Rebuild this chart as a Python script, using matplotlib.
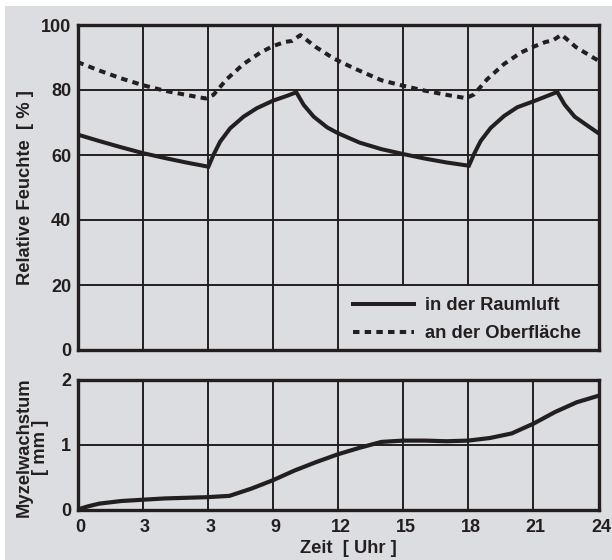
import matplotlib
matplotlib.use("Agg")
import matplotlib.pyplot as plt
import matplotlib.transforms as mtransforms
from matplotlib.patches import Rectangle

plt.rcParams['font.family'] = ['Liberation Sans', 'DejaVu Sans']
plt.rcParams['font.weight'] = 'bold'
plt.rcParams['axes.labelweight'] = 'bold'

BG = '#dcdde0'
INK = '#231f20'

# Relative humidity in room air [%]
raum_x = [0, 1, 2, 3, 4, 5, 6.03, 6.26, 6.57, 7.03, 7.65, 8.26, 9, 9.65, 10.08,
          10.42, 10.88, 11.5, 12, 13, 14, 15, 16, 17, 18.03,
          18.26, 18.57, 19.03, 19.65, 20.26, 21, 21.65, 22.1,
          22.44, 22.9, 23.5, 24]
raum_y = [66.3, 64.3, 62.4, 60.6, 59.1, 57.7, 56.4, 60.0, 64.1, 68.2, 71.8, 74.4, 76.7, 78.2, 79.3,
          75.4, 71.8, 68.5, 66.7, 63.8, 61.8, 60.3, 58.9, 57.7, 56.7,
          60.2, 64.3, 68.3, 72.0, 74.7, 76.5, 78.2, 79.4,
          75.5, 71.8, 69.0, 66.7]

# Relative humidity at surface [%]
ober_x = [0, 1, 2, 3, 4, 5, 5.9, 6.26, 6.87, 7.65, 8.42, 9, 9.57, 9.88, 10.27,
          10.96, 11.8, 12.73, 14, 15, 16, 17, 17.9,
          18.26, 18.87, 19.65, 20.42, 21, 21.57, 21.88, 22.3,
          22.96, 23.5, 24]
ober_y = [88.6, 86.0, 83.6, 81.5, 79.8, 78.5, 77.4, 78.5, 83.3, 88.0, 91.5, 93.5, 94.8, 95.1, 96.9,
          93.3, 89.7, 86.7, 83.0, 81.3, 79.8, 78.5, 77.5,
          78.6, 83.3, 88.0, 91.5, 93.3, 94.8, 95.2, 97.0,
          93.2, 91.0, 89.0]

# Mycelium growth [mm]
myz_x = [0, 0.5, 1, 2, 3, 4, 5, 6, 7, 8, 9, 10, 11, 12, 13, 14, 15, 16, 17, 18,
         19, 20, 21, 22, 23, 24]
myz_y = [0, 0.05, 0.09, 0.13, 0.15, 0.17, 0.18, 0.19, 0.21, 0.32, 0.45, 0.60,
         0.73, 0.85, 0.95, 1.04, 1.06, 1.06, 1.05, 1.06, 1.10, 1.17, 1.32,
         1.50, 1.65, 1.75]

xticks = [0, 3, 6, 9, 12, 15, 18, 21, 24]
xticklabels = ['0', '3', '3', '9', '12', '15', '18', '21', '24']
yticks_top = [0, 20, 40, 60, 80, 100]
yticks_bot = [0, 1, 2]

FS = 13
LFS = 13.2

fig = plt.figure(figsize=(6.12, 5.6), dpi=100, facecolor='white')
fig.patches.append(Rectangle((5 / 612, 0), 1, 1 - 6 / 560, transform=fig.transFigure,
                             facecolor=BG, edgecolor='none', zorder=-10))

ax1 = fig.add_axes([77.5 / 612, 1 - 350 / 560, 521 / 612, 325 / 560])
ax2 = fig.add_axes([77.5 / 612, 1 - 509.5 / 560, 521 / 612, 130 / 560])

for ax in (ax1, ax2):
    ax.set_facecolor(BG)
    ax.set_xlim(0, 24)
    ax.set_xticks(xticks)
    ax.grid(True, color=INK, lw=1.4, zorder=1)
    ax.set_axisbelow(True)
    for s in ax.spines.values():
        s.set_linewidth(2.4)
        s.set_color(INK)
        s.set_zorder(5)
    ax.tick_params(length=0, labelsize=FS, labelcolor=INK)
    ax.tick_params(axis='y', pad=4.5)
    ax.tick_params(axis='x', pad=7.2)

ax1.set_ylim(0, 100)
ax1.set_yticks(yticks_top)
ax1.set_xticklabels([])
ax1.plot(raum_x, raum_y, color=INK, lw=2.9, solid_joinstyle='miter',
         label='in der Raumluft', zorder=3)
ax1.plot(ober_x, ober_y, color=INK, lw=2.9, linestyle=(0, (1.6, 1.3)),
         label='an der Oberfläche', zorder=3)
ax1.set_ylabel('Relative Feuchte  [ % ]', fontsize=LFS, color=INK)
ax1.yaxis.set_label_coords(-0.083, 0.5)

# legend background hides the grid in the lower right
ax1.add_patch(Rectangle((0.5 + 1.5 / 519, 1.5 / 325), 0.5 - 3 / 519, 0.2 - 2.5 / 325,
                        transform=ax1.transAxes, facecolor=BG, edgecolor='none', zorder=2))
leg = ax1.legend(loc='upper left', bbox_to_anchor=(0.528, 0.162), frameon=False,
                 prop={'size': 13.2, 'weight': 'bold'}, handlelength=3.35, handletextpad=0.6,
                 labelspacing=0.58, borderpad=0, borderaxespad=0)
for t in leg.get_texts():
    t.set_color(INK)

ax2.set_ylim(0, 2)
ax2.set_yticks(yticks_bot)
ax2.set_xticklabels(xticklabels)
shift = mtransforms.ScaledTranslation(2.5 / 100, 0, fig.dpi_scale_trans)
for lab in ax2.get_xticklabels():
    lab.set_transform(lab.get_transform() + shift)
ax2.plot(myz_x, myz_y, color=INK, lw=3.0, zorder=3)
ax2.set_ylabel('Myzelwachstum\n[ mm ]', fontsize=LFS, color=INK, linespacing=0.95)
ax2.yaxis.set_label_coords(-0.055, 0.48)
ax2.set_xlabel('Zeit  [ Uhr ]', fontsize=LFS, color=INK)
ax2.xaxis.set_label_coords(0.52, -0.235)

fig.savefig('out.png', dpi=100, facecolor=fig.get_facecolor())
